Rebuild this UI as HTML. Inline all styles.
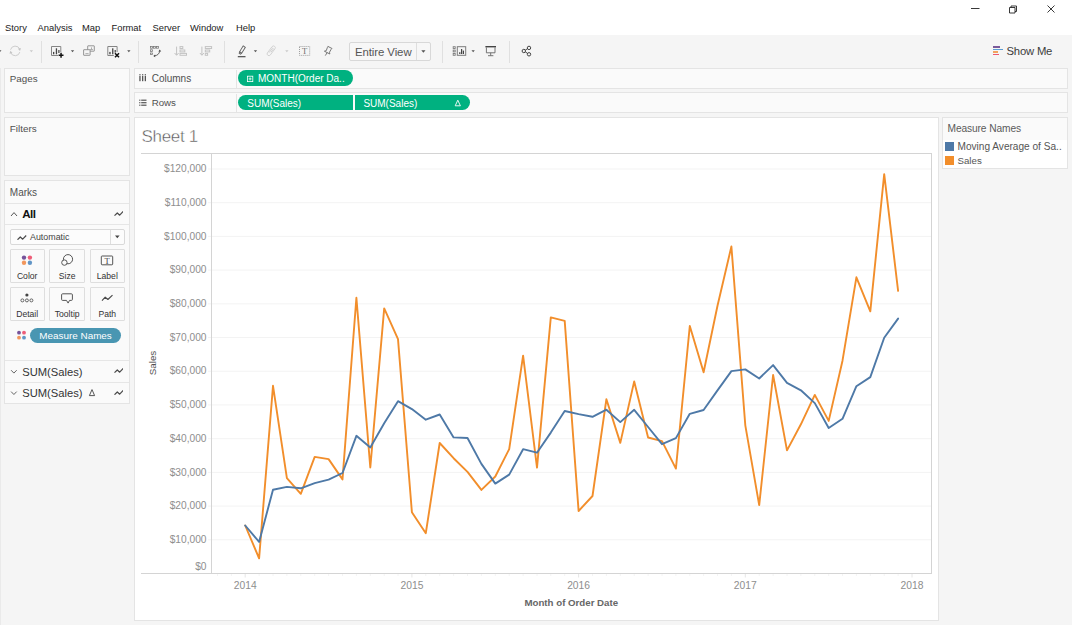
<!DOCTYPE html>
<html><head><meta charset="utf-8"><title>Tableau - Sheet 1</title>
<style>
*{box-sizing:border-box;margin:0;padding:0}
html,body{width:1080px;height:625px;overflow:hidden;background:#fff}
body{position:relative;font-family:"Liberation Sans",sans-serif;color:#333;font-size:10px}
.abs{position:absolute}
#gray{left:0;top:35px;width:1072px;height:590px;background:#f5f5f5}
.menu span{position:absolute;top:21.5px;font-size:9.4px;line-height:12px;color:#1a1a1a;white-space:nowrap}
.card{position:absolute;background:#fafafa;border:1px solid #e4e4e4}
.lbl{position:absolute;font-size:9.6px;color:#505050;white-space:nowrap;line-height:12px}
.sep{position:absolute;top:41px;width:1px;height:22px;background:#e0e0e0}
.pill{position:absolute;height:15px;border-radius:8px;background:#00b180;color:#fff;font-size:10px;line-height:15px;white-space:nowrap}
.btn{position:absolute;width:35px;height:34px;border:1px solid #dedede;background:#fafafa;border-radius:1px}
.btn b{position:absolute;left:0;right:0;bottom:1.2px;text-align:center;font-weight:normal;font-size:8.6px;color:#333;line-height:10px}
.hl{position:absolute;height:1px;background:#e6e6e6}
.ylab{position:absolute;right:0;font-size:10.2px;color:#8e8e8e;line-height:12px;white-space:nowrap}
.xlab{position:absolute;top:579.7px;font-size:10.3px;color:#8e8e8e;line-height:12px;width:40px;text-align:center}
</style></head><body>
<div id="gray" class="abs"></div>

<div class="abs" style="left:0;top:68px;width:1px;height:557px;background:#eaeaea"></div>
<!-- menu -->
<div class="menu">
<span style="left:5px">Story</span><span style="left:37.5px">Analysis</span><span style="left:82px">Map</span><span style="left:111.5px">Format</span><span style="left:152.5px">Server</span><span style="left:190px">Window</span><span style="left:236px">Help</span>
</div>

<!-- window controls -->
<svg class="abs" style="left:960px;top:0;width:110px;height:20px" viewBox="0 0 110 20" fill="none" stroke="#222" stroke-width="0.9">
<path d="M11 8.5h8.5"/>
<path d="M49.5 7.5h5.5v5.5h-5.5z M51 7.5v-1.5h5.5v5.5h-1.5"/>
<path d="M87.5 5.5l7 7M94.5 5.5l-7 7"/>
</svg>


<!-- toolbar -->
<div class="sep" style="left:40.5px"></div><div class="sep" style="left:138px"></div><div class="sep" style="left:224px"></div><div class="sep" style="left:442px"></div><div class="sep" style="left:509px"></div>
<div class="abs" style="left:349px;top:42px;width:81.5px;height:18.5px;border:1px solid #d8d8d8;border-radius:2px;background:#f7f7f7"></div>
<div class="abs" style="left:416px;top:43px;width:1px;height:17px;background:#dedede"></div>
<svg class="abs" style="left:0;top:36px;width:560px;height:30px" viewBox="0 36 560 30" fill="none">
<!-- carets -->
<g fill="#555"><path d="M-1.8 50.3h3.3l-1.65 2.0z"/><path d="M70.9 50.3h3.3l-1.65 2.0z"/><path d="M127.2 50.3h3.3l-1.65 2.0z"/><path d="M253.8 50.3h3.3l-1.65 2.0z"/><path d="M471.5 50.3h3.3l-1.65 2.0z"/><path d="M421.3 50.3h4.2l-2.10 2.4z"/></g>
<g fill="#cacaca"><path d="M29.7 50.3h3.3l-1.65 2.0z"/><path d="M285.2 50.3h3.3l-1.65 2.0z"/></g>
<!-- refresh (disabled) -->
<g stroke="#cdcdcd" stroke-width="1">
<path d="M10.56 49.7A4.8 4.8 0 0 1 19.7 49.2"/><path d="M19.84 52.1A4.8 4.8 0 0 1 10.7 52.6"/>
</g>
<g fill="#c4c4c4"><path d="M17.9 48.7l3-.6-.9 2.9z"/><path d="M12.5 53.1l-3 .6.9-2.9z"/></g>
<!-- new worksheet -->
<g stroke="#858585" stroke-width="1">
<path d="M60.8 52V46.5H51.5v9h6.5"/>
</g>
<g fill="#444"><rect x="53" y="51.9" width="1.3" height="2.4"/><rect x="55.8" y="48.3" width="1.3" height="6"/><rect x="58.3" y="50" width="1.2" height="3"/>
<path d="M60.3 52.8h1.5v1.7h1.7v1.5h-1.7v1.7h-1.5v-1.7h-1.7v-1.5h1.7z" fill="#111"/></g>
<!-- duplicate -->
<g stroke="#8c8c8c" stroke-width="0.9"><rect x="87.7" y="45.8" width="6.6" height="5.4" rx="0.3"/><rect x="83.6" y="49.7" width="6.5" height="5.6" rx="0.3" fill="#f5f5f5"/></g>
<g stroke="#9a9a9a" stroke-width="0.8"><path d="M90 49.6h3M91.5 49.4v-2M85.4 53.6h3.2"/></g>
<!-- clear sheet -->
<g stroke="#858585" stroke-width="1"><path d="M117.1 52V46.5H107.8v9h6"/></g>
<g fill="#444"><rect x="109.3" y="51.9" width="1.3" height="2.4"/><rect x="112.1" y="48.3" width="1.3" height="6"/><rect x="114.6" y="50" width="1.2" height="2.6"/></g>
<path d="M115 53.2l4 4M119 53.2l-4 4" stroke="#111" stroke-width="1.5"/>
<!-- swap -->
<g stroke="#747474" stroke-width="0.75"><rect x="150.4" y="46.6" width="2" height="1.6"/><rect x="153.4" y="46.6" width="2" height="1.6"/><rect x="156.4" y="46.6" width="2" height="1.6"/><rect x="150.4" y="49.8" width="2" height="1.6"/><rect x="150.4" y="53" width="2" height="1.6"/>
<path d="M154.8 55.8c2.8 -0.4 4.5 -2.1 4.9 -4.6" stroke="#555" stroke-width="0.9"/></g>
<g fill="#444"><path d="M153.3 55.9l1.9-1.4v2.8z"/><path d="M159.8 49.6l1.4 1.9h-2.8z"/></g>
<!-- sort asc / desc (disabled) -->
<g stroke="#c3c3c3" stroke-width="1">
<path d="M176.6 46.6v8.4M174.6 53l2 2.3 2-2.3"/><rect x="180" y="46.6" width="2.8" height="1.9"/><rect x="180" y="50" width="4.8" height="1.9"/><rect x="180" y="53.4" width="6.5" height="1.9"/>
<path d="M201.9 46.6v8.4M199.9 53l2 2.3 2-2.3"/><rect x="205.3" y="46.6" width="6.3" height="1.9"/><rect x="205.3" y="50" width="4.4" height="1.9"/><rect x="205.3" y="53.4" width="2.3" height="1.9"/>
</g>
<!-- highlighter -->
<g stroke="#606060" stroke-width="0.9" transform="rotate(32 242.1 50)"><rect x="240.9" y="46" width="2.5" height="6.8"/><path d="M240.9 52.8l.5 1.6h1.5l.5-1.6"/></g>
<rect x="237.8" y="56" width="7.7" height="1.3" fill="#5a5a5a"/>
<!-- paperclip disabled -->
<g stroke="#d0d0d0" stroke-width="0.9" transform="rotate(37 271.2 50.8)"><rect x="269.4" y="45.2" width="3.6" height="11.2" rx="1.8"/><path d="M270.6 53.6v-5.2a0.65 0.65 0 0 1 1.3 0v3.6"/></g>
<!-- T box -->
<rect x="299.5" y="46.5" width="10.2" height="8.9" stroke="#9c9c9c" stroke-width="1" stroke-dasharray="1 1.04"/>
<!-- pin -->
<g stroke="#6a6a6a" stroke-width="0.9" stroke-linejoin="round"><path d="M327.9 46.4L332 48.5L331 49.5L329.5 52.2L329.8 54L324.4 51.2L326.3 50.6L327.3 47.7Z"/><path d="M327.1 52.7L325.3 55.6"/></g>
<!-- show cards -->
<g stroke="#7c7c7c" stroke-width="0.9"><rect x="453.2" y="46.7" width="2" height="1.8"/><rect x="453.2" y="50.1" width="2" height="1.8"/><rect x="453.2" y="53.5" width="2" height="1.8"/><rect x="457.3" y="46.7" width="8.4" height="8.6" stroke-width="1"/></g>
<g fill="#444"><rect x="459.2" y="52.2" width="1.2" height="1.8"/><rect x="461" y="49" width="1.2" height="5"/><rect x="462.8" y="50.6" width="1.2" height="3.4"/></g>
<!-- presentation -->
<rect x="485.4" y="46" width="10.6" height="1.4" fill="#444"/>
<g stroke="#666" stroke-width="0.9"><path d="M486.4 47.4v5.4h8.6v-5.4M490.7 52.8v2.8M488 55.7h5.4"/></g>
<!-- share -->
<g stroke="#444" stroke-width="1"><circle cx="529" cy="47.9" r="1.7"/><circle cx="523.8" cy="51" r="1.7"/><circle cx="529" cy="54.3" r="1.7"/><path d="M525.3 50.1l2.2-1.4M525.3 51.9l2.2 1.5"/></g>
</svg>
<span class="abs" style="left:301.9px;top:46.1px;font-family:'Liberation Serif',serif;font-size:8.6px;line-height:10px;color:#707070">T</span>
<span class="abs" style="left:355px;top:44.5px;font-size:11.4px;line-height:14px;letter-spacing:-0.08px;color:#555;white-space:nowrap">Entire View</span>
<!-- show me -->
<div class="abs" style="left:993px;top:46.3px;width:7px;height:1.7px;background:#7b5a9a"></div>
<div class="abs" style="left:993px;top:48.7px;width:9.5px;height:1.5px;background:#5b9bd1"></div>
<div class="abs" style="left:993px;top:51.2px;width:5px;height:1.6px;background:#f2a35e"></div>
<div class="abs" style="left:993px;top:53.7px;width:5.6px;height:1.7px;background:#ee5a6f"></div>
<span class="abs" style="left:1006.5px;top:43.6px;font-size:11.3px;line-height:14px;letter-spacing:-0.2px;color:#3c3c3c;white-space:nowrap">Show Me</span>


<!-- left cards -->
<div class="card" style="left:4px;top:68px;width:126px;height:45px"></div>
<span class="lbl" style="left:9.8px;top:73.3px;font-size:9.8px">Pages</span>
<div class="card" style="left:4px;top:117px;width:126px;height:59px"></div>
<span class="lbl" style="left:9.8px;top:123px;font-size:9.9px">Filters</span>
<div class="card" style="left:4px;top:180px;width:126px;height:224px"></div>
<span class="lbl" style="left:9.8px;top:187px;font-size:10px">Marks</span>


<!-- marks card contents -->
<div class="hl" style="left:5px;top:203px;width:124px"></div>
<div class="hl" style="left:5px;top:224px;width:124px"></div>
<div class="hl" style="left:5px;top:360px;width:124px"></div>
<div class="hl" style="left:5px;top:382px;width:124px"></div>
<svg class="abs" style="left:10px;top:211px;width:8px;height:6px" viewBox="0 0 8 6" fill="none" stroke="#555" stroke-width="1"><path d="M1 5l3-3.4 3 3.4"/></svg>
<span class="abs" style="left:22.3px;top:207px;font-size:11.6px;font-weight:bold;line-height:14px;letter-spacing:-0.55px;color:#111">All</span>
<svg class="abs" style="left:113.5px;top:211.3px;width:9.6px;height:5.4px" viewBox="0 0 9.6 5.4"><path d="M0.5 4.7l2.8-2.7 2.4 2.2 3.5-3.7" fill="none" stroke="#4a4a4a" stroke-width="1.2" stroke-linejoin="round"/></svg>
<div class="abs" style="left:10px;top:229px;width:114.5px;height:15.5px;border:1px solid #d9d9d9;border-radius:2px;background:#fcfcfc"></div>
<div class="abs" style="left:110px;top:230px;width:1px;height:14px;background:#dedede"></div>
<svg class="abs" style="left:17px;top:234.5px;width:9.6px;height:5.4px" viewBox="0 0 9.6 5.4"><path d="M0.5 4.7l2.8-2.7 2.4 2.2 3.5-3.7" fill="none" stroke="#4a4a4a" stroke-width="1.2" stroke-linejoin="round"/></svg>
<span class="abs" style="left:30px;top:232.3px;font-size:8.9px;line-height:11px;color:#444;white-space:nowrap">Automatic</span>
<svg class="abs" style="left:114px;top:235px;width:7px;height:4px" viewBox="0 0 7 4"><path d="M1 0.6h4.6l-2.3 2.6z" fill="#444"/></svg>

<div class="btn" style="left:9.7px;top:249px"><b>Color</b></div>
<div class="btn" style="left:49.2px;top:249px;width:36px"><b>Size</b></div>
<div class="btn" style="left:89.8px;top:249px"><b>Label</b></div>
<div class="btn" style="left:9.7px;top:287px"><b>Detail</b></div>
<div class="btn" style="left:49.2px;top:287px;width:36px"><b>Tooltip</b></div>
<div class="btn" style="left:89.8px;top:287px"><b>Path</b></div>
<svg class="abs" style="left:0;top:250px;width:135px;height:95px" viewBox="0 250 135 95" fill="none">
<circle cx="24" cy="257.6" r="2.2" fill="#76539a"/><circle cx="29.9" cy="257.6" r="2.2" fill="#ee5d78"/><circle cx="24" cy="262.7" r="2.2" fill="#f2975d"/><circle cx="29.9" cy="262.7" r="2.2" fill="#6195c6"/>
<g stroke="#555" stroke-width="1"><circle cx="68" cy="259.2" r="4.6"/><circle cx="64.4" cy="262.6" r="2.7" fill="#fafafa"/></g>
<rect x="101.3" y="256" width="11.4" height="8.8" rx="0.8" stroke="#555" stroke-width="1"/>
<circle cx="26.9" cy="295" r="1.6" fill="#444"/>
<g stroke="#555" stroke-width="0.9"><circle cx="22.4" cy="300.4" r="1.5"/><circle cx="26.9" cy="300.4" r="1.5"/><circle cx="31.4" cy="300.4" r="1.5"/></g>
<path d="M62.6 293.8h8.8a1 1 0 0 1 1 1v4.6a1 1 0 0 1-1 1h-1.9l-1.4 2.7-1.6-2.7h-3.9a1 1 0 0 1-1-1v-4.6a1 1 0 0 1 1-1z" stroke="#555" stroke-width="1"/>
<path d="M102 300.6l3.2-3.4 2.7 2.3 4.6-4.4" stroke="#4a4a4a" stroke-width="1.15" stroke-linejoin="round"/>
<circle cx="19" cy="332.7" r="1.9" fill="#76539a"/><circle cx="24" cy="332.7" r="1.9" fill="#ee5d78"/><circle cx="19" cy="337.7" r="1.9" fill="#f2975d"/><circle cx="24" cy="337.7" r="1.9" fill="#6195c6"/>
</svg>
<span class="abs" style="left:104.6px;top:255.6px;font-family:'Liberation Serif',serif;font-size:8.5px;line-height:10px;color:#444">T</span>
<div class="pill" style="left:29.9px;top:327.6px;width:91.4px;height:15.4px;background:#4996b2;text-align:center;font-size:9.9px;line-height:15.4px">Measure Names</div>

<svg class="abs" style="left:10px;top:369px;width:8px;height:30px" viewBox="0 0 8 30" fill="none" stroke="#666" stroke-width="1"><path d="M1.1 1.2l2.8 2.9 2.8-2.9M1.1 22.6l2.8 2.9 2.8-2.9"/></svg>
<span class="abs" style="left:22.2px;top:364.6px;font-size:11.2px;line-height:14px;color:#333;white-space:nowrap">SUM(Sales)</span>
<span class="abs" style="left:22.2px;top:386px;font-size:11.2px;line-height:14px;color:#333;white-space:nowrap">SUM(Sales)</span>
<svg class="abs" style="left:88px;top:388px;width:8px;height:9px" viewBox="0 0 8 9" fill="none" stroke="#444" stroke-width="0.9"><path d="M4 1.6l2.6 6h-5.2z"/></svg>
<svg class="abs" style="left:113.5px;top:368.3px;width:9.6px;height:5.4px" viewBox="0 0 9.6 5.4"><path d="M0.5 4.7l2.8-2.7 2.4 2.2 3.5-3.7" fill="none" stroke="#4a4a4a" stroke-width="1.2" stroke-linejoin="round"/></svg><svg class="abs" style="left:113.5px;top:389.7px;width:9.6px;height:5.4px" viewBox="0 0 9.6 5.4"><path d="M0.5 4.7l2.8-2.7 2.4 2.2 3.5-3.7" fill="none" stroke="#4a4a4a" stroke-width="1.2" stroke-linejoin="round"/></svg>

<!-- shelves -->
<div class="card" style="left:133.5px;top:68px;width:934px;height:21px"></div>
<div class="card" style="left:133.5px;top:92px;width:934px;height:21px"></div>


<!-- shelf contents -->
<div class="abs" style="left:236px;top:69.5px;width:1px;height:18px;background:#e4e4e4"></div>
<div class="abs" style="left:236px;top:93.5px;width:1px;height:18px;background:#e4e4e4"></div>
<svg class="abs" style="left:138px;top:72px;width:12px;height:36px" viewBox="138 72 12 36" fill="#555">
<rect x="139.3" y="76" width="1.3" height="5.2"/><rect x="142" y="76" width="1.3" height="5.2"/><rect x="144.7" y="76" width="1.3" height="5.2"/>
<rect x="139.3" y="74.2" width="1.3" height="1.2"/><rect x="142" y="74.2" width="1.3" height="1.2"/><rect x="144.7" y="74.2" width="1.3" height="1.2"/>
<rect x="141.2" y="99.6" width="5.3" height="1.2"/><rect x="141.2" y="102.1" width="5.3" height="1.2"/><rect x="141.2" y="104.6" width="5.3" height="1.2"/>
<rect x="139.2" y="99.6" width="1.2" height="1.2"/><rect x="139.2" y="102.1" width="1.2" height="1.2"/><rect x="139.2" y="104.6" width="1.2" height="1.2"/>
</svg>
<span class="lbl" style="left:151.7px;top:73.2px;font-size:10px">Columns</span>
<span class="lbl" style="left:151.7px;top:96.7px;font-size:9.7px">Rows</span>
<div class="pill" style="left:238px;top:70px;width:115.3px;height:16px"><span class="abs" style="left:20px;top:0.8px">MONTH(Order Da..</span></div>
<svg class="abs" style="left:246px;top:74.6px;width:8px;height:8px" viewBox="0 0 8 8" fill="none" stroke="#fff" stroke-width="0.8"><rect x="1.4" y="1.2" width="5.4" height="5.4"/><path d="M2.6 3.9h3M4.1 2.4v3"/></svg>
<div class="pill" style="left:238px;top:95.3px;width:115.2px;border-radius:8px 0 0 8px"><span class="abs" style="left:9.3px;top:0.3px">SUM(Sales)</span></div>
<div class="pill" style="left:355px;top:95.3px;width:114.6px;border-radius:0 8px 8px 0"><span class="abs" style="left:8.4px;top:0.3px">SUM(Sales)</span></div>
<svg class="abs" style="left:453px;top:98px;width:10px;height:10px" viewBox="0 0 10 10" fill="none" stroke="#fff" stroke-width="0.9"><path d="M4.8 2.2l2.6 5.6h-5.2z"/></svg>

<!-- chart panel -->
<div class="card" style="left:133.5px;top:117px;width:805px;height:504px;background:#fff"></div>


<!-- chart -->
<span class="abs" style="left:141.5px;top:127px;font-size:17px;line-height:20px;color:#545454;letter-spacing:-0.3px;-webkit-text-stroke:0.45px #fff">Sheet 1</span>
<svg class="abs" style="left:0;top:0;width:1080px;height:625px" viewBox="0 0 1080 625" fill="none">
<g stroke="#f3f3f3" stroke-width="1">
<path d="M208 539.79H931"/><path d="M208 506.08H931"/><path d="M208 472.37H931"/><path d="M208 438.66H931"/><path d="M208 404.95H931"/><path d="M208 371.24H931"/><path d="M208 337.53H931"/><path d="M208 303.82H931"/><path d="M208 270.11H931"/><path d="M208 236.40H931"/><path d="M208 202.69H931"/><path d="M208 168.98H931"/>
</g>
<g stroke="#d4d4d4" stroke-width="1" shape-rendering="crispEdges">
<path d="M140.5 153.5H931.5"/><path d="M140.5 573.5H932"/><path d="M211.5 153.5V573.5"/><path d="M931.5 153.5V573.5"/>
</g>
<g stroke="#f4f4f4" stroke-width="1"><path d="M217.5 574V576"/><path d="M231.4 574V576"/><path d="M259.1 574V576"/><path d="M273.0 574V576"/><path d="M286.9 574V576"/><path d="M300.8 574V576"/><path d="M314.7 574V576"/><path d="M328.6 574V576"/><path d="M342.5 574V576"/><path d="M356.4 574V576"/><path d="M370.3 574V576"/><path d="M384.2 574V576"/><path d="M398.0 574V576"/><path d="M425.8 574V576"/><path d="M439.7 574V576"/><path d="M453.6 574V576"/><path d="M467.5 574V576"/><path d="M481.4 574V576"/><path d="M495.3 574V576"/><path d="M509.2 574V576"/><path d="M523.1 574V576"/><path d="M537.0 574V576"/><path d="M550.8 574V576"/><path d="M564.7 574V576"/><path d="M592.5 574V576"/><path d="M606.4 574V576"/><path d="M620.3 574V576"/><path d="M634.2 574V576"/><path d="M648.1 574V576"/><path d="M662.0 574V576"/><path d="M675.9 574V576"/><path d="M689.8 574V576"/><path d="M703.6 574V576"/><path d="M717.5 574V576"/><path d="M731.4 574V576"/><path d="M759.2 574V576"/><path d="M773.1 574V576"/><path d="M787.0 574V576"/><path d="M800.9 574V576"/><path d="M814.8 574V576"/><path d="M828.7 574V576"/><path d="M842.5 574V576"/><path d="M856.4 574V576"/><path d="M870.3 574V576"/><path d="M884.2 574V576"/><path d="M898.1 574V576"/></g>
<g stroke="#e6e6e6" stroke-width="1"><path d="M245.2 574V577.5"/><path d="M411.9 574V577.5"/><path d="M578.6 574V577.5"/><path d="M745.3 574V577.5"/><path d="M912.0 574V577.5"/></g>
<polyline stroke="#f28e2b" stroke-width="1.9" stroke-linejoin="round" stroke-linecap="round" points="245.2,525.5 259.1,558.3 273.0,385.8 286.9,478.1 300.8,493.8 314.7,456.9 328.6,459.1 342.5,479.4 356.4,297.8 370.3,467.5 384.2,308.4 398.0,339.1 411.9,512.2 425.8,533.2 439.7,443.0 453.6,458.2 467.5,471.9 481.4,489.9 495.3,476.5 509.2,449.1 523.1,355.7 537.0,467.6 550.8,317.4 564.7,320.9 578.6,511.0 592.5,496.0 606.4,399.2 620.3,442.9 634.2,381.4 648.1,437.5 662.0,441.1 675.9,468.6 689.8,326.0 703.6,372.3 717.5,305.8 731.4,246.5 745.3,425.3 759.2,505.1 773.1,375.0 787.0,450.4 800.9,424.3 814.8,394.9 828.7,420.9 842.5,360.7 856.4,277.3 870.3,311.3 884.2,174.2 898.1,290.9"/>
<polyline stroke="#4e79a7" stroke-width="1.9" stroke-linejoin="round" stroke-linecap="round" points="245.2,525.5 259.1,541.9 273.0,489.8 286.9,486.9 300.8,488.3 314.7,483.1 328.6,479.6 342.5,473.0 356.4,435.8 370.3,447.5 384.2,423.3 398.0,401.2 411.9,409.1 425.8,419.7 439.7,414.5 453.6,437.4 467.5,438.0 481.4,463.9 495.3,483.6 509.2,474.6 523.1,449.2 537.0,452.7 550.8,432.6 564.7,411.0 578.6,414.1 592.5,416.8 606.4,409.7 620.3,422.1 634.2,409.8 648.1,427.0 662.0,444.2 675.9,438.1 689.8,413.8 703.6,410.0 717.5,390.4 731.4,371.1 745.3,369.4 759.2,378.5 773.1,365.1 787.0,382.9 800.9,390.3 814.8,403.1 828.7,428.0 842.5,418.8 856.4,386.2 870.3,377.1 884.2,337.7 898.1,318.6"/>
</svg>
<div class="abs" style="left:140px;top:0;width:66.5px;height:625px">
<span class="ylab" style="top:561.4px">$0</span><span class="ylab" style="top:533.9px">$10,000</span><span class="ylab" style="top:500.2px">$20,000</span><span class="ylab" style="top:466.5px">$30,000</span><span class="ylab" style="top:432.8px">$40,000</span><span class="ylab" style="top:399.1px">$50,000</span><span class="ylab" style="top:365.3px">$60,000</span><span class="ylab" style="top:331.6px">$70,000</span><span class="ylab" style="top:297.9px">$80,000</span><span class="ylab" style="top:264.2px">$90,000</span><span class="ylab" style="top:230.5px">$100,000</span><span class="ylab" style="top:196.8px">$110,000</span><span class="ylab" style="top:163.1px">$120,000</span>
</div>
<span class="xlab" style="left:225.3px">2014</span><span class="xlab" style="left:392px">2015</span><span class="xlab" style="left:558.6px">2016</span><span class="xlab" style="left:725.3px">2017</span><span class="xlab" style="left:892px">2018</span>
<span class="abs" style="left:471.3px;top:596.8px;width:200px;text-align:center;font-size:9.7px;line-height:12px;color:#666;font-weight:bold">Month of Order Date</span>
<span class="abs" style="left:102.8px;top:356.5px;width:100px;text-align:center;font-size:9.8px;line-height:12px;color:#505050;transform:rotate(-90deg)">Sales</span>

<!-- legend -->
<div class="card" style="left:942px;top:117px;width:126px;height:52px"></div>


<div class="abs" style="left:943px;top:140px;width:124px;height:28px;background:#fff"></div>
<span class="lbl" style="left:947.5px;top:123.2px;font-size:10.2px;letter-spacing:-0.1px;color:#5a5a5a">Measure Names</span>
<div class="abs" style="left:945px;top:142px;width:9px;height:9.2px;background:#4e79a7"></div>
<div class="abs" style="left:945px;top:155.6px;width:9px;height:9.2px;background:#f28e2b"></div>
<span class="lbl" style="left:957.5px;top:141.3px;font-size:10.1px;color:#555">Moving Average of Sa..</span>
<span class="lbl" style="left:957.5px;top:154.9px;font-size:9.7px;color:#555">Sales</span>
</body></html>
